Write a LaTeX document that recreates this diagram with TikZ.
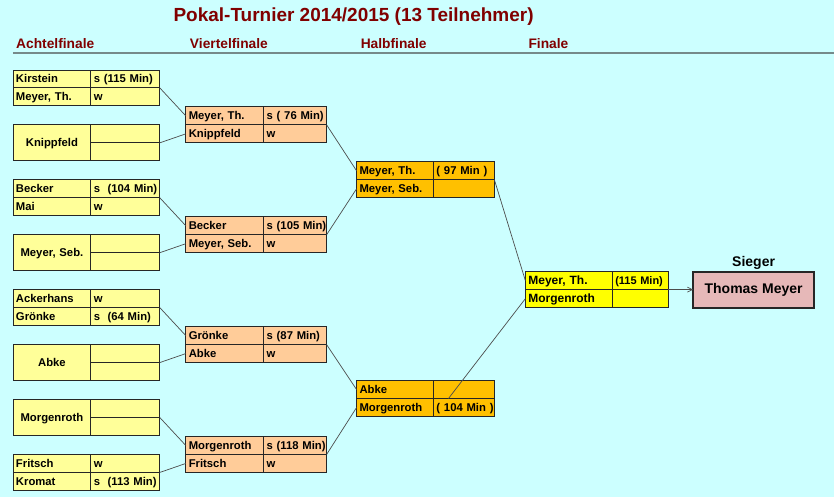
\documentclass[tikz,border=0pt]{standalone}
\usepackage{fontspec}
\setmainfont{Liberation Sans}
\usepackage{tikz}
\usetikzlibrary{arrows.meta,positioning}
\definecolor{bgcyan}{HTML}{CCFFFF}
\definecolor{titlered}{HTML}{800000}
\definecolor{rulegray}{HTML}{768A8A}
\definecolor{achtel}{HTML}{FFFF99}
\definecolor{viertel}{HTML}{FFCC99}
\definecolor{halb}{HTML}{FFC000}
\definecolor{fin}{HTML}{FFFF00}
\definecolor{siegpink}{HTML}{E6B8B8}

\begin{document}
\begin{tikzpicture}[x=1pt,y=-1pt,
  cell/.style={draw=black!85,line width=0.8pt,outer sep=0pt,inner xsep=3pt,
               inner ysep=0pt,minimum height=18pt,text height=10pt,text depth=2pt,
               align=left,font=\fontsize{11.3}{13}\selectfont\bfseries},
  an/.style={cell,fill=achtel,text width=72pt},
  ar/.style={cell,fill=achtel,text width=63pt},
  am/.style={an,minimum height=36pt,align=center},
  vn/.style={cell,fill=viertel,text width=72pt},
  vr/.style={cell,fill=viertel,text width=57pt},
  hn/.style={cell,fill=halb,text width=71pt},
  hr/.style={cell,fill=halb,text width=55pt},
  fn/.style={cell,fill=fin,text width=81pt,font=\fontsize{12}{14}\selectfont\bfseries},
  fr/.style={cell,fill=fin,text width=50pt,font=\fontsize{11}{13}\selectfont\bfseries},
  rnd/.style={titlered,inner sep=0pt,anchor=base west,font=\fontsize{13.8}{16}\selectfont\bfseries},
  ln/.style={draw=black!70,line width=0.7pt},
  node distance=0pt]
\fill[bgcyan] (0,0) rectangle (835,498);
\node[titlered,inner sep=0pt,anchor=base,font=\fontsize{19}{22}\selectfont\bfseries]
      (title) at (354,22) {Pokal-Turnier 2014/2015 (13 Teilnehmer)};
\node[rnd] (h1) at (16,49) {Achtelfinale};
\node[rnd] (h2) at (190,49) {Viertelfinale};
\node[rnd] (h3) at (361,49) {Halbfinale};
\node[rnd] (h4) at (529,49) {Finale};
\draw[rulegray,line width=2pt] (13,53) -- (835,53);
% Achtelfinale
\node[an,anchor=north west] (a1) at (13,70) {Kirstein};
\node[ar,right=of a1] (a1r) {s~(115~Min)};
\node[an,below=of a1] (a2) {Meyer, Th.};
\node[ar,right=of a2] (a2r) {w};
\node[am,below=19pt of a2] (b1) {Knippfeld};
\node[ar,anchor=north west] (b1r) at (b1.north east) {};
\node[ar,below=of b1r] (b2r) {};
\node[an,below=19pt of b1] (c1) {Becker};
\node[ar,right=of c1] (c1r) {s~~(104~Min)};
\node[an,below=of c1] (c2) {Mai};
\node[ar,right=of c2] (c2r) {w};
\node[am,below=19pt of c2] (d1) {Meyer, Seb.};
\node[ar,anchor=north west] (d1r) at (d1.north east) {};
\node[ar,below=of d1r] (d2r) {};
\node[an,below=19pt of d1] (e1) {Ackerhans};
\node[ar,right=of e1] (e1r) {w};
\node[an,below=of e1] (e2) {Grönke};
\node[ar,right=of e2] (e2r) {s~~(64~Min)};
\node[am,below=19pt of e2] (f1) {Abke};
\node[ar,anchor=north west] (f1r) at (f1.north east) {};
\node[ar,below=of f1r] (f2r) {};
\node[am,below=19pt of f1] (g1) {Morgenroth};
\node[ar,anchor=north west] (g1r) at (g1.north east) {};
\node[ar,below=of g1r] (g2r) {};
\node[an,below=19pt of g1] (k1) {Fritsch};
\node[ar,right=of k1] (k1r) {w};
\node[an,below=of k1] (k2) {Kromat};
\node[ar,right=of k2] (k2r) {s~~(113~Min)};
% Viertelfinale
\node[vn,anchor=north west] (q1a) at (186,107) {Meyer, Th.};
\node[vr,right=of q1a] (q1ar) {s~(~76~Min)};
\node[vn,below=of q1a] (q1b) {Knippfeld};
\node[vr,right=of q1b] (q1br) {w};
\node[vn,below=74pt of q1b] (q2a) {Becker};
\node[vr,right=of q2a] (q2ar) {s~(105~Min)};
\node[vn,below=of q2a] (q2b) {Meyer, Seb.};
\node[vr,right=of q2b] (q2br) {w};
\node[vn,below=74pt of q2b] (q3a) {Grönke};
\node[vr,right=of q3a] (q3ar) {s~(87~Min)};
\node[vn,below=of q3a] (q3b) {Abke};
\node[vr,right=of q3b] (q3br) {w};
\node[vn,below=74pt of q3b] (q4a) {Morgenroth};
\node[vr,right=of q4a] (q4ar) {s~(118~Min)};
\node[vn,below=of q4a] (q4b) {Fritsch};
\node[vr,right=of q4b] (q4br) {w};
% Halbfinale
\node[hn,anchor=north west] (s1a) at (357,162) {Meyer, Th.};
\node[hr,right=of s1a] (s1ar) {(~97~Min~)};
\node[hn,below=of s1a] (s1b) {Meyer, Seb.};
\node[hr,right=of s1b] (s1br) {};
\node[hn,below=183pt of s1b] (s2a) {Abke};
\node[hr,right=of s2a] (s2ar) {};
\node[hn,below=of s2a] (s2b) {Morgenroth};
\node[hr,right=of s2b] (s2br) {(~104~Min~)};
% Finale
\node[fn,anchor=north west] (fa) at (526,272) {Meyer, Th.};
\node[fr,right=of fa] (far) {(115~Min)};
\node[fn,below=of fa] (fb) {Morgenroth};
\node[fr,right=of fb] (fbr) {};
\node[draw=black!85,line width=1.8pt,fill=siegpink,outer sep=0pt,minimum width=121pt,
      minimum height=36pt,anchor=west,font=\fontsize{14}{16}\selectfont\bfseries]
      (win) at (694,290) {Thomas Meyer};
\node[inner sep=0pt,anchor=base,font=\fontsize{14}{16}\selectfont\bfseries]
      (sg) at ([yshift=5pt]win.north) {Sieger};
% Linien
\draw[ln] (a1r.south east) -- (q1a.west);
\draw[ln] (b1r.south east) -- (q1b.west);
\draw[ln] (c1r.south east) -- (q2a.west);
\draw[ln] (d1r.south east) -- (q2b.west);
\draw[ln] (e1r.south east) -- (q3a.west);
\draw[ln] (f1r.south east) -- (q3b.west);
\draw[ln] (g1r.south east) -- (q4a.west);
\draw[ln] (k1r.south east) -- (q4b.west);
\draw[ln] (q1ar.south east) -- (s1a.west);
\draw[ln] (q2ar.south east) -- (s1b.west);
\draw[ln] (q3ar.south east) -- (s2a.west);
\draw[ln] (q4ar.south east) -- (s2b.west);
\draw[ln] (s1ar.south east) -- (fa.west);
\draw[ln] (fb.west) -- ([xshift=15pt]s2ar.south west);
\draw[ln,-{Straight Barb[length=5pt,width=5pt]}] (far.south east) -- (win.west);
\end{tikzpicture}
\end{document}
